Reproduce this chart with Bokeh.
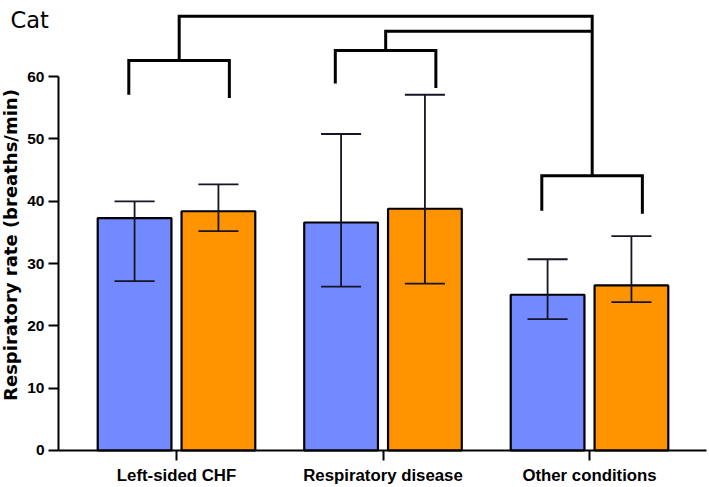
import numpy as np
from bokeh.plotting import figure
from bokeh.models import FixedTicker, Label, LinearAxis, Range1d
from bokeh.embed import file_html
from bokeh.resources import INLINE

# Group names along the x axis
categories = ["Left-sided CHF", "Respiratory disease", "Other conditions"]

# Left (blue) bar of each pair: mean with upper / lower error limits
blue_mean = [37.3, 36.6, 25.0]
blue_upper = [40.0, 50.8, 30.7]
blue_lower = [27.2, 26.3, 21.1]

# Right (orange) bar of each pair
orange_mean = [38.4, 38.8, 26.5]
orange_upper = [42.7, 57.1, 34.4]
orange_lower = [35.2, 26.8, 23.8]

y_ticks = [0, 10, 20, 30, 40, 50, 60]

# Comparison brackets over each group: crossbar height and leg end heights
bracket_bar = [62.6, 64.2, 44.1]
bracket_leg_left = [57.1, 58.9, 38.5]
bracket_leg_right = [56.6, 58.2, 38.0]
# Connectors joining the first two brackets to the third one
link_heights = [69.7, 67.3]

# ---- styling / layout constants ----
BLUE = "#7389FF"
ORANGE = "#FF9300"
BAR_OFFSET = 0.203
BAR_WIDTH = 0.357
CAP_HALF = 0.097
LEG_L, LEG_R, STEM = -0.231, 0.256, 0.013
FONT = "Liberation Sans"
Y_AXIS_AT = -0.5714      # where the value axis crosses the category axis
X_AXIS_END = 2.5666

# The plot area fills the whole canvas; both axes are pinned inside it.
p = figure(
    width=709, height=487,
    x_range=Range1d(-0.8523, 2.5811), y_range=Range1d(-5.939, 72.23),
    output_backend="svg", toolbar_location=None,
    x_axis_location=None, y_axis_location=None,
    min_border=0,
)
p.xgrid.visible = False
p.ygrid.visible = False
p.outline_line_color = None
p.background_fill_color = "white"
p.border_fill_color = "white"

x = np.arange(len(categories))

# bars
for off, mean, color in ((-BAR_OFFSET, blue_mean, BLUE), (BAR_OFFSET, orange_mean, ORANGE)):
    p.vbar(x=x + off, top=mean, bottom=0, width=BAR_WIDTH,
           fill_color=color, line_color="black", line_width=2.2)

# error bars
for off, lo, hi in ((-BAR_OFFSET, blue_lower, blue_upper), (BAR_OFFSET, orange_lower, orange_upper)):
    xc = x + off
    p.segment(x0=xc, y0=lo, x1=xc, y1=hi, line_color="#151525", line_width=1.8)
    p.segment(x0=xc - CAP_HALF, y0=hi, x1=xc + CAP_HALF, y1=hi, line_color="#151525", line_width=1.8)
    p.segment(x0=xc - CAP_HALF, y0=lo, x1=xc + CAP_HALF, y1=lo, line_color="#151525", line_width=1.8)

# significance brackets
xs, ys = [], []
for i in range(len(categories)):
    l, r = i + LEG_L, i + LEG_R
    xs.append([l, l, r, r])
    ys.append([bracket_leg_left[i], bracket_bar[i], bracket_bar[i], bracket_leg_right[i]])
hub = 2 + STEM
xs.append([0 + STEM, 0 + STEM, hub, hub])
ys.append([bracket_bar[0], link_heights[0], link_heights[0], bracket_bar[2]])
xs.append([1 + STEM, 1 + STEM, hub])
ys.append([bracket_bar[1], link_heights[1], link_heights[1]])
p.multi_line(xs, ys, line_color="black", line_width=3, line_join="miter", line_cap="butt")

# axes
yaxis = LinearAxis(fixed_location=Y_AXIS_AT, bounds=(0, 60), ticker=FixedTicker(ticks=y_ticks))
xaxis = LinearAxis(fixed_location=0, bounds=(Y_AXIS_AT, X_AXIS_END),
                   ticker=FixedTicker(ticks=list(range(len(categories)))))
for ax in (xaxis, yaxis):
    ax.axis_line_width = 2
    ax.axis_line_color = "black"
    ax.major_tick_line_width = 2
    ax.major_tick_line_color = "black"
    ax.major_tick_in = 0
    ax.major_tick_out = 10
    ax.minor_tick_line_color = None
    ax.major_label_text_font = FONT
    ax.major_label_text_font_style = "bold"
    ax.major_label_text_color = "black"

yaxis.major_label_text_font_size = "15.5px"
yaxis.major_label_standoff = 4
xaxis.major_label_overrides = {i: c for i, c in enumerate(categories)}
xaxis.major_label_text_font_size = "16.8px"
xaxis.major_label_standoff = 6
p.add_layout(yaxis, "left")
p.add_layout(xaxis, "below")

# y axis title
p.add_layout(Label(
    x=10, y=244.5, x_units="canvas", y_units="canvas", angle=np.pi / 2,
    text="Respiratory rate (breaths/min)", text_align="center", text_baseline="middle",
    text_font="DejaVu Sans", text_font_style="bold", text_font_size="18px", text_color="black",
))

# panel title
p.add_layout(Label(
    x=10, y=19.5, x_units="canvas", y_units="canvas",
    text="Cat", text_align="left", text_baseline="alphabetic",
    text_font="DejaVu Sans", text_font_size="22.5px", text_color="black",
))

open("out.html", "w").write(file_html(p, INLINE))
